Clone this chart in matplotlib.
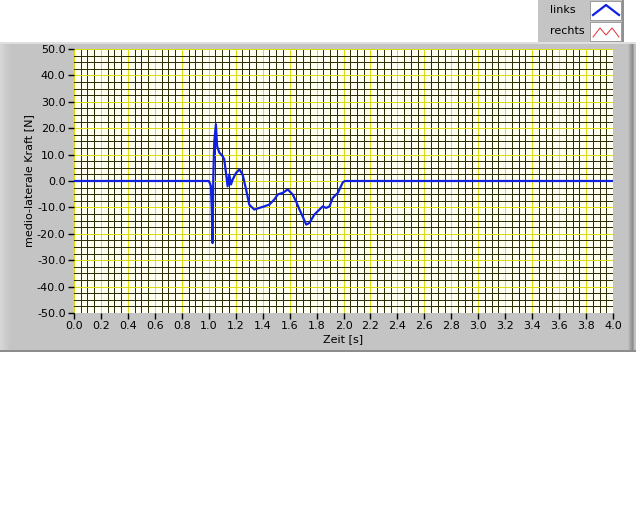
import numpy as np
import matplotlib
matplotlib.use('agg')
from matplotlib import pyplot as plt
from matplotlib.patches import Rectangle
from matplotlib.ticker import MultipleLocator

# ---------------- data ----------------
zeit = [0.0, 1.000, 1.010, 1.016, 1.022, 1.028, 1.034, 1.041, 1.053, 1.062,
        1.078, 1.103, 1.115, 1.128, 1.140, 1.152, 1.165, 1.177, 1.202, 1.227,
        1.251, 1.277, 1.301, 1.338, 1.375, 1.413, 1.450, 1.487, 1.512, 1.549,
        1.586, 1.623, 1.648, 1.673, 1.697, 1.723, 1.747, 1.784, 1.822, 1.846,
        1.871, 1.896, 1.920, 1.958, 1.995, 2.010, 4.0]
kraft = [0.0, 0.0, -1.0, -2.0, -10.0, -23.5, 2.0, 15.0, 21.5, 13.2,
         10.8, 9.4, 8.2, 3.0, -2.0, 2.5, -1.3, 0.5, 3.0, 4.4,
         2.5, -3.2, -9.0, -10.8, -10.2, -9.6, -8.9, -7.0, -5.1, -4.5,
         -3.2, -5.1, -7.7, -10.8, -13.4, -16.5, -15.9, -12.7, -10.8, -9.6,
         -10.2, -9.6, -6.4, -4.5, -0.5, 0.0, 0.0]

x_ticks = np.arange(0, 4.01, 0.2)
y_ticks = np.arange(-50, 50.1, 10)

W, H = 640, 512
fig = plt.figure(figsize=(6.4, 5.12), dpi=100)
fig.patch.set_facecolor('white')

def px(x0, y0, w, h):
    # pixel box (top-left origin) -> figure fraction
    return [x0 / W, 1 - (y0 + h) / H, w / W, h / H]

bg = fig.add_axes([0, 0, 1, 1])
bg.set_xlim(0, W)
bg.set_ylim(H, 0)
bg.axis('off')

# grey panel of the graph with shaded edges
bg.add_patch(Rectangle((0, 42), 636, 310, facecolor='#c4c4c4', edgecolor='none'))
for i, c in enumerate(['#d6d6d6', '#d2d2d2', '#cecece', '#cacaca', '#c7c7c7']):
    bg.add_patch(Rectangle((2 * i, 42), 2, 310, facecolor=c, edgecolor='none'))
for i, c in enumerate(['#bcbcbc', '#b0b0b0', '#a4a4a4', '#989898', '#8c8c8c', '#a0a0a0', '#c0c0c0']):
    bg.add_patch(Rectangle((628 + i, 42), 1.1, 310, facecolor=c, edgecolor='none'))
bg.add_patch(Rectangle((0, 350), 636, 2, facecolor='#8c8c8c', edgecolor='none'))
bg.add_patch(Rectangle((0, 42), 636, 1.5, facecolor='#e0e0e0', edgecolor='none'))

# legend box
bg.add_patch(Rectangle((538, 0), 86, 42, facecolor='#c4c4c4', edgecolor='none'))
bg.add_patch(Rectangle((622, 0), 2, 42, facecolor='#909090', edgecolor='none'))
bg.text(550, 10, 'links', fontsize=8, family='DejaVu Sans', va='center')
bg.text(550, 31, 'rechts', fontsize=8, family='DejaVu Sans', va='center')
bg.add_patch(Rectangle((590, 1), 31, 19, facecolor='white', edgecolor='#909090', lw=0.6))
bg.add_patch(Rectangle((590, 22), 31, 19, facecolor='white', edgecolor='#909090', lw=0.6))
bg.plot([593, 606, 619], [15, 5, 15], color='#1020e0', lw=1.6)
bg.plot([593, 600, 606, 612, 619], [37, 28, 35, 28, 37], color='#e03030', lw=0.7)

ax = fig.add_axes(px(74, 49, 539, 264))
ax.set_facecolor('#fffff2')
ax.set_xlim(0, 4)
ax.set_ylim(-50, 50)
ax.xaxis.set_major_locator(MultipleLocator(0.2))
ax.xaxis.set_minor_locator(MultipleLocator(0.05))
ax.yaxis.set_major_locator(MultipleLocator(10))
ax.yaxis.set_minor_locator(MultipleLocator(2.5))
ax.grid(which='minor', color='#2e2e08', lw=0.72)
ax.grid(which='major', color='#dcdc10', lw=0.72)
ax.set_axisbelow(True)
for s in ax.spines.values():
    s.set_visible(False)

ax.set_xticks(x_ticks)
ax.set_xticklabels(['%.1f' % v for v in x_ticks])
ax.set_yticks(y_ticks)
ax.set_yticklabels(['%.1f' % v for v in y_ticks])
ax.tick_params(which='major', length=4, width=1, color='black', labelsize=8, pad=2)
ax.tick_params(axis='x', which='minor', bottom=False)
ax.tick_params(axis='y', which='minor', left=False)

ax.plot(zeit, kraft, color='#1020e0', lw=1.6, clip_on=True)

ax.set_xlabel('Zeit [s]', fontsize=8, labelpad=2)
ax.set_ylabel('medio-laterale Kraft [N]', fontsize=8, labelpad=2)

fig.savefig('out.png', dpi=100, facecolor='white')
